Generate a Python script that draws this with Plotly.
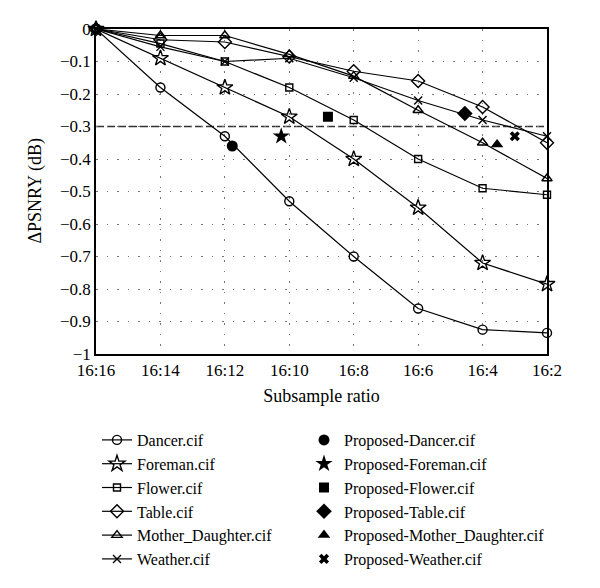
import plotly.graph_objects as go

# ---- data ----
X_RATIOS = [16, 14, 12, 10, 8, 6, 4, 2]
TICK_TEXT = ["16:16", "16:14", "16:12", "16:10", "16:8", "16:6", "16:4", "16:2"]

dancer = [0, -0.18, -0.33, -0.53, -0.70, -0.86, -0.925, -0.935]
foreman = [0, -0.09, -0.18, -0.27, -0.40, -0.55, -0.72, -0.785]
flower = [0, -0.045, -0.10, -0.18, -0.28, -0.40, -0.49, -0.51]
table = [0, -0.033, -0.04, -0.085, -0.13, -0.16, -0.24, -0.35]
mother_daughter = [0, -0.02, -0.02, -0.078, -0.145, -0.25, -0.35, -0.46]
weather = [0, -0.055, -0.10, -0.09, -0.15, -0.22, -0.28, -0.33]

proposed_names = ["Proposed-Dancer.cif", "Proposed-Foreman.cif", "Proposed-Flower.cif",
                  "Proposed-Table.cif", "Proposed-Mother_Daughter.cif", "Proposed-Weather.cif"]
proposed_x = [11.77, 10.25, 8.8, 4.55, 3.55, 3.0]
proposed_y = [-0.36, -0.33, -0.27, -0.26, -0.355, -0.33]

THRESHOLD = -0.3
Y_TITLE = "ΔPSNRY (dB)"
X_TITLE = "Subsample ratio"

FONT = "Liberation Serif"
W, H = 592, 580  # page body adds an 8px margin

fig = go.Figure()

base_series = [
    ("Dancer.cif", dancer, "circle-open", 9),
    ("Foreman.cif", foreman, "star-open", 12),
    ("Flower.cif", flower, "square-open", 7),
    ("Table.cif", table, "diamond-open", 10),
    ("Mother_Daughter.cif", mother_daughter, "triangle-up-open", 9),
    ("Weather.cif", weather, "x-thin-open", 8),
]
for name, vals, sym, sz in base_series:
    fig.add_trace(go.Scatter(
        x=X_RATIOS, y=vals, name=name, mode="lines+markers",
        line=dict(color="black", width=1.2),
        marker=dict(symbol=sym, size=sz, color="black", line=dict(color="black", width=1.4)),
        cliponaxis=False, legend="legend",
    ))

prop_syms = [("circle", 11), ("star", 13), ("square", 10), ("diamond", 12), ("triangle-up", 11), ("x", 9)]
for name, px, py, (sym, sz) in zip(proposed_names, proposed_x, proposed_y, prop_syms):
    fig.add_trace(go.Scatter(
        x=[px], y=[py], name=name, mode="markers",
        marker=dict(symbol=sym, size=sz, color="black", line=dict(width=0)),
        cliponaxis=False, legend="legend2",
    ))

fig.add_shape(type="line", xref="paper", x0=0, x1=1, yref="y", y0=THRESHOLD, y1=THRESHOLD,
              line=dict(color="#333333", width=1.6, dash="8px,3px"), layer="below")

fig.add_annotation(text=Y_TITLE, textangle=-90, xref="paper", yref="paper",
                   x=(35 - 96) / 451, y=0.5, xanchor="center", yanchor="middle",
                   showarrow=False, font=dict(family=FONT, size=18, color="black"))

TICKFONT = dict(family=FONT, size=17, color="black")

fig.update_layout(
    width=W, height=H,
    margin=dict(l=88, r=53, t=21, b=234, autoexpand=False),
    paper_bgcolor="white", plot_bgcolor="white",
    font=dict(family=FONT, size=17, color="black"),
    xaxis=dict(
        range=[16, 2], tickvals=X_RATIOS, ticktext=TICK_TEXT, tickfont=TICKFONT,
        showline=True, mirror=True, linecolor="black", linewidth=1.5,
        showgrid=True, gridcolor="#777777", gridwidth=1, griddash="1.5px,9px",
        zeroline=False, ticks="", ticklen=0,
        title=dict(text=X_TITLE, standoff=10, font=dict(family=FONT, size=18, color="black")),
    ),
    yaxis=dict(
        range=[-1, 0], dtick=0.1, tick0=0, tickfont=TICKFONT,
        showline=True, mirror=True, linecolor="black", linewidth=1.5,
        showgrid=True, gridcolor="#777777", gridwidth=1, griddash="1.5px,9px",
        zeroline=False, ticks="", ticklen=0,
    ),
    legend=dict(xref="container", yref="container", x=89/W, y=1 - 415/H,
                xanchor="left", yanchor="top", bgcolor="rgba(0,0,0,0)",
                font=dict(family=FONT, size=16, color="black"), tracegroupgap=0),
    legend2=dict(xref="container", yref="container", x=296/W, y=1 - 415/H,
                 xanchor="left", yanchor="top", bgcolor="rgba(0,0,0,0)",
                 font=dict(family=FONT, size=16, color="black"), tracegroupgap=0),
)

fig.write_html("out.html")
